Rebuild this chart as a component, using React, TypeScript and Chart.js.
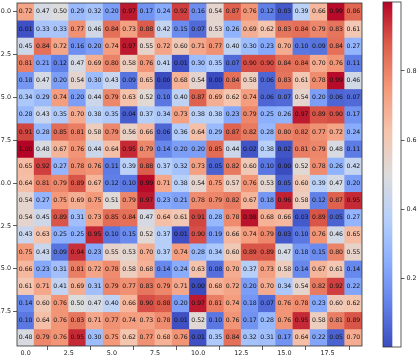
import React, { useEffect, useRef } from 'react';
import { Chart, registerables } from 'chart.js';

Chart.register(...registerables);

// ---- data ----
const columns = [0, 1, 2, 3, 4, 5, 6, 7, 8, 9, 10, 11, 12, 13, 14, 15, 16, 17, 18, 19];
const rowsIdx = [0, 1, 2, 3, 4, 5, 6, 7, 8, 9, 10, 11, 12, 13, 14, 15, 16, 17, 18, 19];

const row0 = [0.72, 0.47, 0.50, 0.29, 0.32, 0.20, 0.97, 0.17, 0.24, 0.92, 0.16, 0.54, 0.87, 0.76, 0.12, 0.03, 0.39, 0.66, 0.99, 0.86];
const row1 = [0.01, 0.33, 0.33, 0.77, 0.46, 0.84, 0.73, 0.88, 0.42, 0.15, 0.07, 0.53, 0.26, 0.69, 0.62, 0.83, 0.84, 0.79, 0.83, 0.61];
const row2 = [0.45, 0.84, 0.72, 0.16, 0.20, 0.74, 0.97, 0.55, 0.72, 0.60, 0.71, 0.77, 0.40, 0.30, 0.23, 0.70, 0.10, 0.09, 0.84, 0.27];
const row3 = [0.81, 0.21, 0.12, 0.47, 0.69, 0.80, 0.58, 0.76, 0.41, 0.01, 0.30, 0.35, 0.07, 0.90, 0.90, 0.84, 0.84, 0.70, 0.76, 0.11];
const row4 = [0.18, 0.47, 0.20, 0.54, 0.30, 0.43, 0.09, 0.65, 0.00, 0.68, 0.54, 0.00, 0.84, 0.58, 0.06, 0.83, 0.61, 0.78, 0.99, 0.46];
const row5 = [0.34, 0.29, 0.74, 0.20, 0.44, 0.79, 0.63, 0.52, 0.10, 0.40, 0.87, 0.69, 0.62, 0.74, 0.06, 0.07, 0.54, 0.20, 0.06, 0.07];
const row6 = [0.28, 0.43, 0.35, 0.70, 0.38, 0.35, 0.04, 0.37, 0.34, 0.73, 0.38, 0.38, 0.23, 0.79, 0.25, 0.26, 0.97, 0.89, 0.90, 0.17];
const row7 = [0.91, 0.28, 0.85, 0.81, 0.58, 0.79, 0.56, 0.66, 0.06, 0.36, 0.64, 0.29, 0.87, 0.82, 0.28, 0.80, 0.82, 0.77, 0.72, 0.24];
const row8 = [1.00, 0.48, 0.67, 0.76, 0.44, 0.64, 0.95, 0.79, 0.14, 0.20, 0.20, 0.85, 0.44, 0.02, 0.38, 0.02, 0.81, 0.79, 0.48, 0.11];
const row9 = [0.65, 0.92, 0.27, 0.78, 0.76, 0.11, 0.39, 0.88, 0.37, 0.32, 0.73, 0.05, 0.82, 0.60, 0.10, 0.00, 0.52, 0.78, 0.26, 0.42];
const row10 = [0.64, 0.81, 0.79, 0.89, 0.67, 0.12, 0.10, 0.99, 0.71, 0.38, 0.54, 0.75, 0.57, 0.76, 0.53, 0.05, 0.60, 0.39, 0.47, 0.20];
const row11 = [0.54, 0.27, 0.75, 0.69, 0.75, 0.51, 0.79, 0.97, 0.23, 0.21, 0.78, 0.79, 0.82, 0.67, 0.18, 0.96, 0.58, 0.12, 0.87, 0.95];
const row12 = [0.54, 0.45, 0.89, 0.31, 0.73, 0.85, 0.84, 0.47, 0.64, 0.61, 0.91, 0.28, 0.78, 0.98, 0.68, 0.66, 0.03, 0.89, 0.05, 0.27];
const row13 = [0.43, 0.63, 0.25, 0.25, 0.95, 0.10, 0.15, 0.52, 0.37, 0.01, 0.90, 0.19, 0.66, 0.74, 0.79, 0.03, 0.10, 0.76, 0.46, 0.65];
const row14 = [0.75, 0.43, 0.09, 0.94, 0.23, 0.55, 0.53, 0.70, 0.37, 0.74, 0.28, 0.34, 0.60, 0.89, 0.89, 0.47, 0.18, 0.15, 0.80, 0.55];
const row15 = [0.66, 0.23, 0.31, 0.81, 0.72, 0.78, 0.58, 0.68, 0.14, 0.24, 0.63, 0.08, 0.70, 0.37, 0.73, 0.58, 0.14, 0.67, 0.61, 0.14];
const row16 = [0.61, 0.71, 0.41, 0.69, 0.31, 0.79, 0.77, 0.83, 0.79, 0.71, 0.00, 0.68, 0.72, 0.20, 0.70, 0.34, 0.54, 0.82, 0.92, 0.22];
const row17 = [0.14, 0.60, 0.76, 0.50, 0.47, 0.40, 0.66, 0.90, 0.88, 0.20, 0.97, 0.81, 0.74, 0.18, 0.07, 0.76, 0.78, 0.23, 0.60, 0.62];
const row18 = [0.10, 0.64, 0.76, 0.83, 0.71, 0.77, 0.74, 0.73, 0.78, 0.01, 0.52, 0.10, 0.76, 0.17, 0.28, 0.76, 0.95, 0.58, 0.81, 0.89];
const row19 = [0.48, 0.79, 0.76, 0.95, 0.30, 0.75, 0.62, 0.77, 0.68, 0.76, 0.01, 0.35, 0.84, 0.32, 0.31, 0.17, 0.64, 0.22, 0.05, 0.70];

const values = [row0, row1, row2, row3, row4, row5, row6, row7, row8, row9, row10, row11, row12, row13, row14, row15, row16, row17, row18, row19];

const xTicks = [0, 2.5, 5, 7.5, 10, 12.5, 15, 17.5];
const yTicks = [0, 2.5, 5, 7.5, 10, 12.5, 15, 17.5];
const colorbarTicks = [0.2, 0.4, 0.6, 0.8];

// coolwarm anchors
const cmapStops: [number, number, number, number][] = [
  [0.0, 59, 76, 192],
  [0.125, 98, 130, 234],
  [0.25, 141, 176, 254],
  [0.375, 184, 208, 249],
  [0.5, 221, 220, 220],
  [0.625, 245, 196, 173],
  [0.75, 244, 154, 123],
  [0.875, 222, 96, 77],
  [1.0, 180, 4, 38],
];

function coolwarm(v: number): string {
  const t = Math.max(0, Math.min(1, v));
  for (let i = 0; i < cmapStops.length - 1; i++) {
    const a = cmapStops[i];
    const b = cmapStops[i + 1];
    if (t >= a[0] && t <= b[0]) {
      const f = (t - a[0]) / (b[0] - a[0]);
      const r = Math.round(a[1] + (b[1] - a[1]) * f);
      const g = Math.round(a[2] + (b[2] - a[2]) * f);
      const bl = Math.round(a[3] + (b[3] - a[3]) * f);
      return `rgb(${r},${g},${bl})`;
    }
  }
  return 'rgb(180,4,38)';
}

const FONT = 'DejaVu Sans';
const TICK_FONT = { family: FONT, size: 6.4 };
const TEXT_COLOR = '#222';

const framePlugin = {
  id: 'frame',
  afterDraw(chart: any) {
    const { ctx, chartArea } = chart;
    ctx.save();
    ctx.strokeStyle = '#333';
    ctx.lineWidth = 0.8;
    ctx.strokeRect(chartArea.left, chartArea.top, chartArea.right - chartArea.left, chartArea.bottom - chartArea.top);
    ctx.restore();
  },
};

const labelPlugin = {
  id: 'cellLabels',
  afterDatasetsDraw(chart: any) {
    const { ctx } = chart;
    ctx.save();
    ctx.font = `6.2px "${FONT}"`;
    ctx.fillStyle = '#111';
    ctx.textAlign = 'center';
    ctx.textBaseline = 'middle';
    chart.data.datasets.forEach((ds: any, di: number) => {
      const meta = chart.getDatasetMeta(di);
      meta.data.forEach((el: any, i: number) => {
        const v = values[di][i];
        const cy = (el.y + el.base) / 2;
        ctx.fillText(v.toFixed(2), el.x, cy + 0.3);
      });
    });
    ctx.restore();
  },
};

export default function App() {
  const mainRef = useRef<HTMLCanvasElement>(null);
  const barRef = useRef<HTMLCanvasElement>(null);

  useEffect(() => {
    const datasets = rowsIdx.map((r) => ({
      label: `row ${r}`,
      data: columns.map((c) => ({ x: c, y: [r - 0.5, r + 0.5] })),
      backgroundColor: values[r].map(coolwarm),
      borderWidth: 0,
      grouped: false,
      barPercentage: 1,
      categoryPercentage: 1,
      inflateAmount: 0.4,
    }));

    const main = new Chart(mainRef.current!, {
      type: 'bar',
      data: { datasets: datasets as any },
      plugins: [labelPlugin, framePlugin],
      options: {
        animation: false,
        responsive: false,
        devicePixelRatio: 1,
        layout: { padding: { top: 3, right: 8, left: 0, bottom: 0 } },
        plugins: { legend: { display: false }, tooltip: { enabled: false } },
        scales: {
          x: {
            type: 'linear',
            min: -0.5,
            max: 19.5,
            offset: false,
            afterBuildTicks: (s: any) => {
              s.ticks = xTicks.map((value) => ({ value }));
            },
            afterFit: (s: any) => {
              s.height = 12;
              s.paddingLeft = 0;
              s.paddingRight = 0;
            },
            ticks: {
              font: TICK_FONT,
              color: TEXT_COLOR,
              padding: 0,
              maxRotation: 0,
              autoSkip: false,
              callback: (v: any) => Number(v).toFixed(1),
            },
            grid: { drawOnChartArea: false, drawTicks: true, tickLength: 4, tickColor: '#333', tickWidth: 0.8 },
            border: { display: false },
          },
          y: {
            type: 'linear',
            min: -0.5,
            max: 19.5,
            reverse: true,
            afterBuildTicks: (s: any) => {
              s.ticks = yTicks.map((value) => ({ value }));
            },
            afterFit: (s: any) => {
              s.width = 17;
              s.paddingTop = 0;
              s.paddingBottom = 0;
            },
            ticks: {
              font: TICK_FONT,
              color: TEXT_COLOR,
              padding: 2,
              autoSkip: false,
              callback: (v: any) => Number(v).toFixed(1),
            },
            grid: { drawOnChartArea: false, drawTicks: true, tickLength: 4, tickColor: '#333', tickWidth: 0.8 },
            border: { display: false },
          },
        },
      },
    });

    const bar = new Chart(barRef.current!, {
      type: 'bar',
      data: {
        labels: [''],
        datasets: [
          {
            data: [[0, 1]] as any,
            borderWidth: 0,
            barPercentage: 1,
            categoryPercentage: 1,
            backgroundColor: (ctx: any) => {
              const ca = ctx.chart.chartArea;
              if (!ca) return '#ddd';
              const g = ctx.chart.ctx.createLinearGradient(0, ca.bottom, 0, ca.top);
              cmapStops.forEach((s) => g.addColorStop(s[0], `rgb(${s[1]},${s[2]},${s[3]})`));
              return g;
            },
          },
        ],
      },
      plugins: [framePlugin],
      options: {
        animation: false,
        responsive: false,
        devicePixelRatio: 1,
        layout: { padding: { top: 2, left: 13, right: 0, bottom: 11 } },
        plugins: { legend: { display: false }, tooltip: { enabled: false } },
        scales: {
          x: { display: false, offset: false },
          y: {
            position: 'right',
            min: 0,
            max: 1,
            afterBuildTicks: (s: any) => {
              s.ticks = colorbarTicks.map((value) => ({ value }));
            },
            afterFit: (s: any) => {
              s.width = 17;
              s.paddingTop = 0;
              s.paddingBottom = 0;
            },
            ticks: {
              font: TICK_FONT,
              color: TEXT_COLOR,
              padding: 2,
              callback: (v: any) => Number(v).toFixed(1),
            },
            grid: { drawOnChartArea: false, drawTicks: true, tickLength: 3.5, tickColor: '#333', tickWidth: 0.8 },
            border: { display: false },
          },
        },
      },
    });

    return () => {
      main.destroy();
      bar.destroy();
    };
  }, []);

  return (
    <div style={{ position: 'absolute', left: 0, top: 0, width: 418, height: 358, background: '#fff', overflow: 'hidden' }}>
      <canvas ref={mainRef} width={370} height={358} style={{ position: 'absolute', left: 0, top: 0, width: 370, height: 358 }} />
      <canvas ref={barRef} width={48} height={358} style={{ position: 'absolute', left: 370, top: 0, width: 48, height: 358 }} />
    </div>
  );
}
